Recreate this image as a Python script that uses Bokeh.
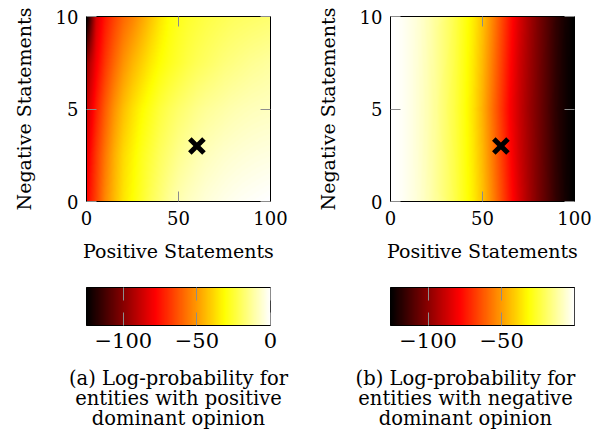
import numpy as np
from bokeh.plotting import figure
from bokeh.models import Range1d, LinearColorMapper, FixedTicker, LinearAxis, Label
from bokeh.layouts import row, column
from bokeh.embed import file_html
from bokeh.resources import INLINE

# ---------------- data ----------------
pos_x = [0, 5, 10, 15, 20, 25, 30, 35, 40, 45, 50, 55, 60, 65, 70, 75, 80, 85, 90, 95, 100]
neg_y = [0, 2.5, 5, 7.5, 10]

# (a) positive dominant opinion, rows = neg_y
logp_pos_y0 = [-78, -66, -53, -44, -36, -31, -26, -21, -17, -13, -10, -8, -6.5, -5, -4, -3, -2.2, -1.5, -1, -0.5, 0]
logp_pos_y25 = [-82, -68, -56, -46, -38, -33, -28, -24, -20, -17, -14, -12, -10, -8.5, -7.5, -6.5, -5.8, -5.2, -4.7, -4.3, -4]
logp_pos_y5 = [-88, -73, -61, -51, -43, -37, -32, -28, -24, -21, -18.5, -16.5, -14.5, -13, -12, -11, -10, -9.3, -8.7, -8.3, -8]
logp_pos_y75 = [-97, -80, -68, -59, -51, -45, -40, -35, -31, -28, -25.5, -23, -21, -19.5, -18, -16.5, -15.5, -14.5, -13.5, -12.8, -12]
logp_pos_y10 = [-125, -86, -74, -66, -59, -54, -48, -42, -36, -31, -28, -26, -24.5, -23, -22, -21, -20, -19.5, -19, -18.5, -18]

# (b) negative dominant opinion, rows = neg_y
logp_neg_y0 = [-0.5, -1.5, -3.5, -6, -9.5, -13.5, -18, -23, -29, -35, -43, -53, -64, -75, -85, -94, -102, -109, -116, -121.5, -125.5]
logp_neg_y25 = [-0.5, -1.5, -3.5, -6.3, -9.8, -13.8, -18.5, -23.5, -29.5, -36, -44.5, -55, -66, -77, -87, -95, -102.5, -109.5, -116.5, -122, -125.5]
logp_neg_y5 = [-0.5, -1.5, -3.5, -6.5, -10, -14, -19, -24, -30, -37, -46, -57, -68, -79, -88, -96, -103, -110, -117, -122, -125.5]
logp_neg_y75 = [-0.5, -1.5, -3.5, -6.3, -9.8, -13.8, -18.5, -23.5, -29.5, -36, -44.5, -55, -66, -77, -87, -95, -102.5, -109.5, -116.5, -122, -125.5]
logp_neg_y10 = [-0.5, -1.5, -3.5, -6, -9.5, -13.5, -18, -23, -29, -35, -43, -53, -64, -75, -85, -94, -102, -109, -116, -121.5, -125.5]

marker_x = [60]
marker_y = [3]

x_ticks = [0, 50, 100]
y_ticks = [0, 5, 10]

cbar_range_a = (-125.0, 0.0)
cbar_range_b = (-125.5, -0.5)
cbar_ticks_a = [-100, -50, 0]
cbar_labels_a = ["\u2212100", "\u221250", "0"]
cbar_ticks_b = [-100, -50]
cbar_labels_b = ["\u2212100", "\u221250"]

x_label = "Positive Statements"
y_label = "Negative Statements"
caption_a = ["(a) Log-probability for", "entities with positive", "dominant opinion"]
caption_b = ["(b) Log-probability for", "entities with negative", "dominant opinion"]

# ---------------- style ----------------
FONT = "DejaVu Serif"
TICK_FS = "18px"
LABEL_FS = "19px"
CBAR_FS = "21px"
CAP_FS = "19.5px"
TICK_GRAY = "#8c8c8c"

# "hot2" colormap: black -> red -> yellow -> white
_t = np.linspace(0, 1, 256)
_anch = [0, 3 / 8, 6 / 8, 1]
_r = np.interp(_t, _anch, [0, 1, 1, 1])
_g = np.interp(_t, _anch, [0, 0, 1, 1])
_b = np.interp(_t, _anch, [0, 0, 0, 1])
PALETTE = ["#%02x%02x%02x" % (int(round(r * 255)), int(round(g * 255)), int(round(b * 255)))
           for r, g, b in zip(_r, _g, _b)]

FRAME_W = 184
FRAME_H = 185


def shade(rows, nx=FRAME_W, ny=FRAME_H):
    """Smooth (bilinear) shading of the sampled grid for display, like an interp shader."""
    arr = np.array(rows, dtype=float)
    fx = np.linspace(pos_x[0], pos_x[-1], nx)
    fy = np.linspace(neg_y[0], neg_y[-1], ny)
    tmp = np.array([np.interp(fx, pos_x, r) for r in arr])
    out = np.array([np.interp(fy, neg_y, tmp[:, j]) for j in range(nx)]).T
    return out


def style_axis(ax, ticks, fs, labels=True):
    ax.ticker = FixedTicker(ticks=ticks)
    ax.major_tick_in = 10
    ax.major_tick_out = 0
    ax.major_tick_line_color = TICK_GRAY
    ax.minor_tick_line_color = None
    ax.axis_line_color = "black"
    ax.major_label_text_font = FONT
    ax.major_label_text_font_size = fs
    ax.major_label_text_color = "black" if labels else None
    ax.axis_label_text_font = FONT
    ax.axis_label_text_font_size = LABEL_FS
    ax.axis_label_text_font_style = "normal"
    ax.axis_label_text_color = "black"


def heat_fig(rows, vrange, left, right, top_b):
    p = figure(width=left + FRAME_W + right, height=top_b + FRAME_H + 66,
               x_range=Range1d(pos_x[0], pos_x[-1]), y_range=Range1d(neg_y[0], neg_y[-1]),
               output_backend="svg", toolbar_location=None,
               min_border_left=left, min_border_right=right, min_border_top=top_b, min_border_bottom=66)
    mapper = LinearColorMapper(palette=PALETTE, low=vrange[0], high=vrange[1])
    p.image(image=[shade(rows)], x=pos_x[0], y=neg_y[0],
            dw=pos_x[-1] - pos_x[0], dh=neg_y[-1] - neg_y[0], color_mapper=mapper)
    p.scatter(marker_x, marker_y, marker="x", size=20, line_width=5, color="black")
    p.grid.visible = False
    p.outline_line_color = "black"
    p.outline_line_alpha = 1
    style_axis(p.xaxis[0], x_ticks, TICK_FS)
    style_axis(p.yaxis[0], y_ticks, TICK_FS)
    p.xaxis.axis_label = x_label
    p.yaxis.axis_label = y_label
    p.xaxis.major_label_standoff = 9
    p.xaxis.axis_label_standoff = 12
    p.yaxis.major_label_standoff = 8
    p.yaxis.axis_label_standoff = 18
    top = LinearAxis()
    style_axis(top, x_ticks, TICK_FS, labels=False)
    top.major_label_standoff = 0
    p.add_layout(top, "above")
    rgt = LinearAxis()
    style_axis(rgt, y_ticks, TICK_FS, labels=False)
    rgt.major_label_standoff = 0
    p.add_layout(rgt, "right")
    p.background_fill_color = None
    p.border_fill_color = None
    return p


def cbar_fig(vrange, ticks, labels, left, right):
    p = figure(width=left + FRAME_W + right, height=92, x_range=Range1d(*vrange), y_range=Range1d(0, 1),
               output_backend="svg", toolbar_location=None, y_axis_location=None,
               min_border_left=left, min_border_right=right, min_border_top=20, min_border_bottom=34)
    mapper = LinearColorMapper(palette=PALETTE, low=vrange[0], high=vrange[1])
    grad = np.linspace(vrange[0], vrange[1], 256)[np.newaxis, :]
    p.image(image=[grad], x=vrange[0], y=0, dw=vrange[1] - vrange[0], dh=1, color_mapper=mapper)
    p.grid.visible = False
    p.outline_line_color = "black"
    style_axis(p.xaxis[0], ticks, CBAR_FS)
    p.xaxis.major_tick_in = 13
    p.xaxis.major_label_overrides = {t: l for t, l in zip(ticks, labels)}
    p.xaxis.major_label_standoff = 7
    top = LinearAxis()
    style_axis(top, ticks, CBAR_FS, labels=False)
    top.major_tick_in = 13
    top.major_label_standoff = 0
    p.add_layout(top, "above")
    p.border_fill_color = None
    return p


ha = heat_fig([logp_pos_y0, logp_pos_y25, logp_pos_y5, logp_pos_y75, logp_pos_y10], cbar_range_a, 86, 30, 16)
hb = heat_fig([logp_neg_y0, logp_neg_y25, logp_neg_y5, logp_neg_y75, logp_neg_y10], cbar_range_b, 90, 18, 16)
ca = cbar_fig(cbar_range_a, cbar_ticks_a, cbar_labels_a, 86, 30)
cb = cbar_fig(cbar_range_b, cbar_ticks_b, cbar_labels_b, 90, 18)

# captions: one full-width strip in pixel units
CAP_W = ha.width + hb.width
CAP_H = 74
cap = figure(width=CAP_W, height=CAP_H, x_range=Range1d(0, CAP_W), y_range=Range1d(CAP_H, 0),
             output_backend="svg", toolbar_location=None, x_axis_location=None, y_axis_location=None,
             min_border_left=0, min_border_right=0, min_border_top=0, min_border_bottom=0)
cap.grid.visible = False
cap.outline_line_color = None
cap.background_fill_color = None
cap.border_fill_color = None
for cx, lines in ((178, caption_a), (465, caption_b)):
    for i, line in enumerate(lines):
        cap.add_layout(Label(x=cx, y=19 + 20 * i, text=line, text_align="center",
                             text_baseline="middle", text_font=FONT, text_font_size=CAP_FS,
                             text_color="black"))

layout = column(row(column(ha, ca), column(hb, cb)), cap)

with open("out.html", "w") as f:
    f.write(file_html(layout, INLINE))
